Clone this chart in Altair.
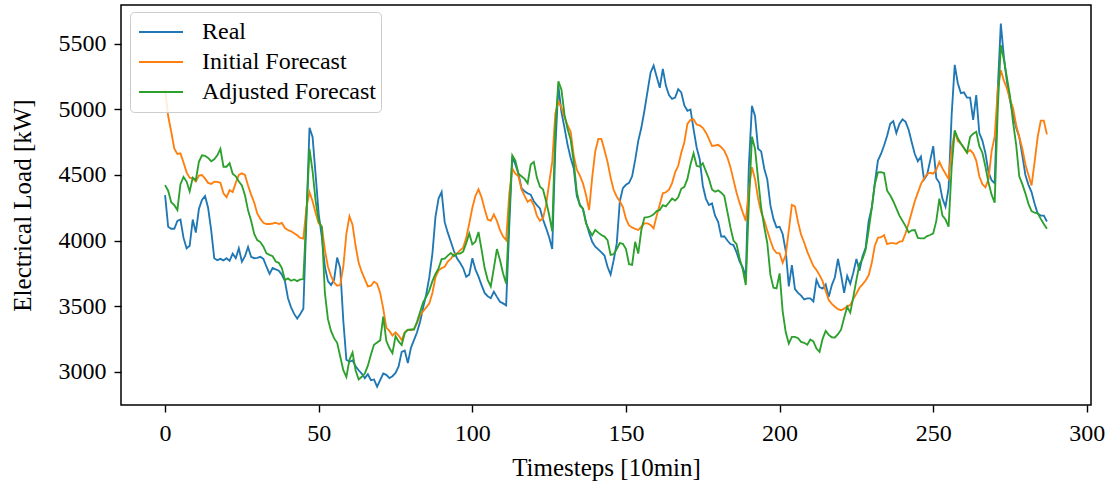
import altair as alt
import pandas as pd

series_names = ["Real", "Initial Forecast", "Adjusted Forecast"]
series_colors = ["#1f77b4", "#ff7f0e", "#2ca02c"]
x_ticks = [0, 50, 100, 150, 200, 250, 300]
y_ticks = [3000, 3500, 4000, 4500, 5000, 5500]

real = [
    4347, 4105, 4090, 4090, 4150, 4160, 4020, 3940, 3960, 4160,
    4060, 4240, 4310, 4340, 4250, 4080, 3865, 3850, 3860, 3848,
    3865, 3845, 3900, 3865, 3940, 3838, 3880, 3950, 3875, 3865,
    3868, 3876, 3860, 3800, 3745, 3790, 3780, 3770, 3740, 3690,
    3560, 3490, 3440, 3405, 3440, 3480, 4170, 4860, 4790, 4500,
    4200, 4030, 3800, 3690, 3660, 3700, 3870, 3790, 3390, 3090,
    3075, 3085, 3040, 3010, 2985, 2950, 2980, 2935, 2940, 2885,
    2935, 2985, 2975, 2950, 2965, 2990, 3040, 3150, 3160, 3065,
    3180, 3240, 3300, 3380, 3490, 3590, 3720, 3900, 4180, 4320,
    4370, 4140, 4060, 3990, 3920, 3865, 3830, 3790, 3724, 3740,
    3865, 3780, 3724, 3660, 3600, 3575, 3560, 3610, 3570, 3532,
    3520, 3505, 4100, 4640, 4580, 4510, 4400, 4375, 4360, 4350,
    4300, 4270, 4245, 4160, 4095, 4025, 3935, 4700, 5180, 4980,
    4860, 4730, 4630, 4550, 4340, 4275, 4240, 4140, 4060, 3990,
    3953, 3932, 3910, 3885, 3800, 3740, 3850, 3978, 4300, 4400,
    4425, 4440, 4490, 4615, 4760, 4860, 4990, 5136, 5280, 5335,
    5250, 5165, 5310, 5180, 5110, 5080, 5090, 5155, 5130, 5030,
    4990, 5000, 4850, 4710, 4620, 4420, 4320, 4271, 4283, 4190,
    4143, 4030, 4032, 4000, 3973, 3965, 3910, 3838, 3795, 3725,
    4570, 5027, 4950, 4700, 4680, 4550, 4465, 4270, 4165, 4100,
    4105, 4050, 3920, 3650, 3813, 3630, 3600, 3580, 3550, 3558,
    3558, 3535, 3700, 3645, 3634, 3665, 3570, 3660, 3720, 3860,
    3740, 3600, 3730, 3670, 3755, 3860, 3770, 3880, 3945, 4150,
    4250, 4440, 4610, 4660, 4725, 4800, 4890, 4910, 4820, 4890,
    4925, 4905, 4845, 4750, 4660, 4605, 4640, 4465, 4500, 4610,
    4720, 4475, 4440, 4320, 4258, 4400, 4960, 5340, 5200, 5125,
    5130, 5090, 5090, 4920, 5110, 4820, 4762, 4665, 4520, 4460,
    4436, 5150, 5655, 5400, 5210, 5065, 4960, 4860, 4790, 4650,
    4500, 4425, 4370, 4280, 4205, 4190, 4190, 4145,
]

initial = [
    5150, 4950, 4830, 4700, 4660, 4665, 4595, 4520, 4480, 4475,
    4450, 4495, 4500, 4472, 4440, 4432, 4449, 4447, 4440, 4360,
    4330, 4385, 4370, 4440, 4500, 4512, 4500, 4420, 4350, 4290,
    4207, 4165, 4135, 4126, 4126, 4130, 4136, 4126, 4135, 4095,
    4080, 4070, 4055, 4040, 4020, 4015, 4250, 4370, 4300, 4210,
    4130, 4110, 3930, 3800, 3730, 3680, 3655, 3660, 3800, 4050,
    4185, 4120, 3960, 3830, 3760, 3705, 3650, 3655, 3685, 3670,
    3600, 3480, 3335, 3310, 3275, 3300, 3275, 3240, 3300, 3320,
    3315, 3325, 3370, 3430, 3460, 3490, 3520, 3600, 3720, 3770,
    3790, 3800, 3840, 3860, 3895, 3900, 3925, 3945, 4020, 4130,
    4250, 4340, 4390, 4330, 4240, 4160, 4150, 4200, 4150, 4080,
    4030, 4003, 4350, 4550, 4510, 4490, 4390, 4340, 4295, 4312,
    4270, 4190, 4150, 4170, 4270, 4440, 4600, 4970, 5060, 5015,
    4940, 4880, 4830, 4650, 4540, 4495, 4436, 4347, 4233, 4480,
    4680, 4775, 4775, 4690, 4600, 4480, 4385, 4334, 4300, 4255,
    4165, 4115, 4100, 4088, 4080, 4105, 4131, 4131, 4118, 4093,
    4190, 4275, 4360, 4368, 4388, 4438, 4520, 4570, 4670, 4750,
    4890, 4920, 4925, 4885, 4878, 4860, 4825, 4775, 4721, 4725,
    4730, 4712, 4685, 4635, 4560, 4461, 4365, 4285, 4215, 4150,
    4390, 4560, 4470, 4320, 4215, 4155, 4075, 4000, 3935, 3905,
    3902, 3830, 3890, 4080, 4271, 4260, 4140, 4045, 3985, 3915,
    3860, 3805, 3775, 3736, 3690, 3615, 3545, 3517, 3495, 3476,
    3468, 3480, 3498, 3507, 3555, 3595, 3640, 3665, 3695, 3735,
    3830, 3960, 4020, 4025, 4040, 3973, 3980, 3980, 3975, 3991,
    3995, 4055, 4130, 4215, 4300, 4365, 4430, 4476, 4507, 4517,
    4510, 4540, 4600, 4550, 4510, 4470, 4700, 4830, 4760, 4740,
    4705, 4670, 4690, 4665, 4610, 4490, 4430, 4406, 4470, 4680,
    4792, 5150, 5300, 5220, 5160, 5075, 5010, 4880, 4790, 4700,
    4580, 4500, 4420, 4600, 4790, 4915, 4915, 4810,
]

adjusted = [
    4423, 4380, 4292, 4270, 4233, 4430, 4485, 4450, 4375, 4480,
    4460, 4600, 4650, 4646, 4630, 4605, 4620, 4650, 4700, 4563,
    4563, 4590, 4510, 4490, 4450, 4420, 4345, 4230, 4150, 4050,
    4003, 3988, 3953, 3902, 3890, 3880, 3840, 3830, 3790, 3698,
    3711, 3693, 3703, 3690, 3703, 3705, 4200, 4700, 4530, 4300,
    4150, 4100, 3600, 3400, 3310, 3255, 3220, 3115, 3011, 2960,
    3090, 3145, 3010, 2940, 2960, 2985, 3045, 3130, 3205, 3222,
    3238, 3420, 3235, 3180, 3140, 3270, 3230, 3202, 3295, 3318,
    3321, 3321, 3380, 3455, 3530, 3570, 3620, 3690, 3745, 3787,
    3858, 3862, 3885, 3905, 3880, 3900, 3900, 3915, 3980, 4054,
    3970, 3990, 4065, 3930, 3790, 3700, 3650, 3790, 3935, 3851,
    3749, 3673, 4200, 4650, 4610, 4510, 4490, 4470, 4436, 4580,
    4600, 4480, 4411, 4390, 4300, 4195, 4070, 4850, 5215, 5150,
    4960, 4850, 4770, 4600, 4370, 4265, 4245, 4130, 4080, 4040,
    4080, 4060, 4042, 4030, 4003, 3890, 3895, 3935, 3980, 3975,
    3935, 3820, 3815, 3990, 3900, 4080, 4175, 4178, 4185, 4200,
    4225, 4233, 4270, 4260, 4290, 4320, 4305, 4330, 4395, 4410,
    4470, 4580, 4665, 4570, 4563, 4590, 4530, 4470, 4390, 4372,
    4383, 4365, 4340, 4220, 4100, 4000, 3973, 3860, 3780, 3660,
    4280, 4792, 4700, 4470, 4250, 4105, 3980, 3740, 3640, 3634,
    3749, 3460, 3300, 3214, 3265, 3265, 3255, 3227, 3220, 3205,
    3245, 3230, 3176, 3151, 3250, 3310, 3280, 3262, 3260, 3285,
    3320, 3410, 3494, 3450, 3570, 3700, 3820, 3860, 3930, 4080,
    4250, 4430, 4520, 4522, 4515, 4380, 4345, 4300, 4245, 4190,
    4150, 4110, 4062, 4078, 4080, 4020, 4016, 4016, 4034, 4042,
    4054, 4150, 4320, 4190, 4160, 4105, 4560, 4840, 4780, 4741,
    4705, 4670, 4790, 4815, 4830, 4720, 4670, 4563, 4440, 4350,
    4289, 5000, 5490, 5380, 5240, 5100, 4900, 4730, 4490, 4430,
    4360, 4280, 4225, 4212, 4208, 4165, 4126, 4090,
]

records = []
for name, vals in zip(series_names, [real, initial, adjusted]):
    for i, v in enumerate(vals):
        records.append({"t": i, "v": v, "series": name})
df = pd.DataFrame(records)

FONT = "Liberation Serif"

x_enc = alt.X(
    "t:Q",
    scale=alt.Scale(domain=[-14.35, 301.35], nice=False, zero=False),
    axis=alt.Axis(
        values=x_ticks, title="Timesteps [10min]", format="d",
        labelPadding=9, minExtent=75, maxExtent=75,
        titleX=485, titleY=62, titleBaseline="middle", titleAlign="center",
    ),
)
y_enc = alt.Y(
    "v:Q",
    scale=alt.Scale(domain=[2745, 5797], nice=False, zero=False),
    axis=alt.Axis(
        values=y_ticks, title="Electrical Load [kW]", format="d",
        labelPadding=8, minExtent=116, maxExtent=116,
        titleX=-99, titleY=200, titleAngle=-90, titleBaseline="middle",
        titleAlign="center",
    ),
)
color_enc = alt.Color(
    "series:N",
    scale=alt.Scale(domain=series_names, range=series_colors),
    sort=series_names,
    legend=alt.Legend(
        title=None, orient="none", legendX=9, legendY=7,
        symbolType="stroke", symbolSize=1936, symbolStrokeWidth=1.8,
        symbolOffset=3, clipHeight=30,
        labelFont=FONT, labelFontSize=24, labelColor="black",
        labelOffset=18, rowPadding=0, padding=5,
        fillColor="rgba(255,255,255,0.85)", strokeColor="#cccccc",
        cornerRadius=4, labelLimit=400,
    ),
)

layers = [
    alt.Chart(df)
    .transform_filter(alt.datum.series == name)
    .mark_line(strokeWidth=1.85)
    .encode(x=x_enc, y=y_enc, color=color_enc)
    for name in series_names
]

chart = (
    alt.layer(*layers)
    .properties(
        width=970, height=400, background="white",
        padding={"left": 5, "top": 5, "right": 5, "bottom": 5},
    )
    .configure_view(stroke="black", strokeWidth=1.5)
    .configure_axis(
        domain=False, grid=False, tickColor="black", tickWidth=1.4, tickSize=7,
        labelFont=FONT, labelFontSize=24, labelColor="black",
        titleFont=FONT, titleFontSize=25, titleColor="black", titleFontWeight="normal",
    )
)

chart.save("out.html", embed_options={"renderer": "svg", "actions": False})
